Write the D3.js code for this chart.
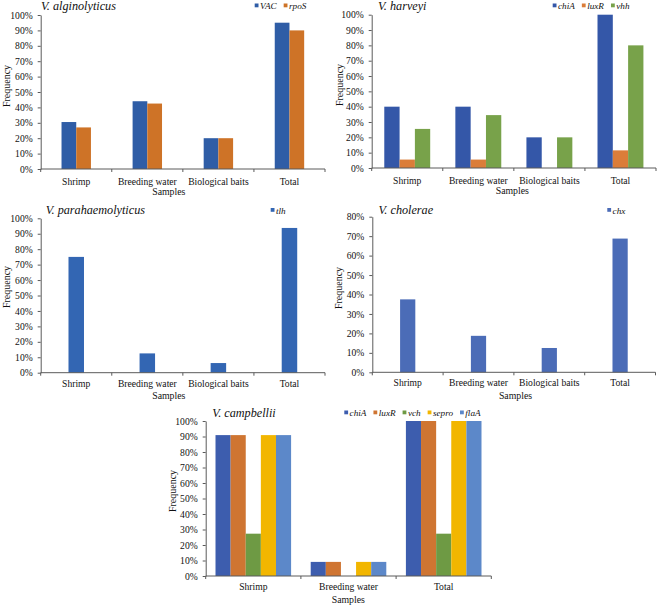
<!DOCTYPE html>
<html><head><meta charset="utf-8">
<script src="https://cdn.jsdelivr.net/npm/d3@7"></script>
<style>
body{margin:0;background:#fff}
svg{display:block}
svg text{font-family:"Liberation Serif","Times New Roman",Times,"DejaVu Serif",serif;fill:#111}
</style>
</head><body>
<svg id="c" width="659" height="606"></svg>
<script>
// ---- data ----
const categories4 = ["Shrimp", "Breeding water", "Biological baits", "Total"];
const categories3 = ["Shrimp", "Breeding water", "Total"];

const alginoVAC  = [0.305, 0.44, 0.20, 0.95];
const alginoRpoS = [0.27, 0.425, 0.20, 0.90];

const harveyiChiA = [0.40, 0.40, 0.20, 1.00];
const harveyiLuxR = [0.055, 0.055, 0.0, 0.115];
const harveyiVhh  = [0.255, 0.345, 0.20, 0.80];

const paraTlh = [0.75, 0.125, 0.0625, 0.9375];

const choleraeChx = [0.375, 0.1875, 0.125, 0.6875];

const campChiA  = [0.909, 0.091, 1.00];
const campLuxR  = [0.909, 0.091, 1.00];
const campVch   = [0.273, 0.0, 0.273];
const campSepro = [0.909, 0.091, 1.00];
const campFlaA  = [0.909, 0.091, 1.00];

const yTicks100 = [0,0.1,0.2,0.3,0.4,0.5,0.6,0.7,0.8,0.9,1.0];
const yTicks80  = [0,0.1,0.2,0.3,0.4,0.5,0.6,0.7,0.8];

// ---- layout / style ----
const panels = [
  { title:"V. alginolyticus", cats:categories4, yTicks:yTicks100, yMax:1,
    series:[{name:"VAC", values:alginoVAC, color:"#2F5DA6"},{name:"rpoS", values:alginoRpoS, color:"#CE7327"}],
    x0:40.7, x1:325, yTop:15, y0:169, frac:0.414, titleX:41, titleY:9.5, legX:254.7, legY:9,
    catY:184.5, samplesX:168.8, samplesY:195, freqX:10, freqY:86 },
  { title:"V. harveyi", cats:categories4, yTicks:yTicks100, yMax:1,
    series:[{name:"chiA", values:harveyiChiA, color:"#3457A8"},{name:"luxR", values:harveyiLuxR, color:"#DB7D39"},{name:"vhh", values:harveyiVhh, color:"#78A24A"}],
    x0:371.7, x1:656, yTop:14.7, y0:168, frac:0.646, titleX:378, titleY:9.5, legX:552.7, legY:9,
    catY:183.5, samplesX:512.3, samplesY:194, freqX:343, freqY:85 },
  { title:"V. parahaemolyticus", cats:categories4, yTicks:yTicks100, yMax:1,
    series:[{name:"tlh", values:paraTlh, color:"#3366B3"}],
    x0:40.7, x1:325, yTop:218.3, y0:372.7, frac:0.218, titleX:45.7, titleY:214, legX:270.7, legY:213.5,
    catY:387, samplesX:168.8, samplesY:399, freqX:10, freqY:287 },
  { title:"V. cholerae", cats:categories4, yTicks:yTicks80, yMax:0.8,
    series:[{name:"chx", values:choleraeChx, color:"#4B6CB7"}],
    x0:372.3, x1:655.5, yTop:216.7, y0:372.3, frac:0.215, titleX:378.5, titleY:214, legX:607.3, legY:213.5,
    catY:386.5, samplesX:515.5, samplesY:398.5, freqX:342, freqY:288 },
  { title:"V. campbellii", cats:categories3, yTicks:yTicks100, yMax:1,
    series:[{name:"chiA", values:campChiA, color:"#3D5DAE"},{name:"luxR", values:campLuxR, color:"#CF7532"},
            {name:"vch", values:campVch, color:"#6E9A44"},{name:"sepro", values:campSepro, color:"#F2B600"},
            {name:"flaA", values:campFlaA, color:"#5C88C9"}],
    x0:205.7, x1:491.3, yTop:421, y0:576, frac:0.794, titleX:212.3, titleY:416.5, legX:344.3, legY:416,
    catY:590, samplesX:348.3, samplesY:603, freqX:175.5, freqY:491 }
];

const svg = d3.select("#c");
const AXIS = "#5a5a5a";

panels.forEach(p => {
  const g = svg.append("g");
  const x = d3.scaleBand().domain(p.cats).range([p.x0, p.x1]).paddingInner(0).paddingOuter(0);
  const y = d3.scaleLinear().domain([0, p.yMax]).range([p.y0, p.yTop]);
  const names = p.series.map(s => s.name);
  const inner = d3.scaleBand().domain(names)
      .range([x.bandwidth()*(1-p.frac)/2, x.bandwidth()*(1-(1-p.frac)/2)]).padding(0);

  p.series.forEach(s => {
    g.append("g").selectAll("rect").data(p.cats.map((c,i)=>({c, v:s.values[i]})))
      .join("rect")
      .attr("x", d => x(d.c) + inner(s.name))
      .attr("width", inner.bandwidth())
      .attr("y", d => y(d.v))
      .attr("height", d => p.y0 - y(d.v))
      .attr("fill", s.color);
  });

  const ya = g.append("g").attr("transform", `translate(${p.x0},0)`)
    .call(d3.axisLeft(y).tickValues(p.yTicks).tickFormat(d3.format(".0%")).tickSizeInner(3).tickSizeOuter(0).tickPadding(5));
  ya.attr("font-family", null);
  ya.select(".domain").attr("stroke", AXIS);
  ya.selectAll(".tick line").attr("stroke", AXIS);
  ya.selectAll("text").attr("font-size", 9.6).attr("fill", "#111");

  const xa = g.append("g").attr("transform", `translate(0,${p.y0})`)
    .call(d3.axisBottom(x).tickSize(0).tickPadding(0));
  xa.attr("font-family", null);
  xa.select(".domain").remove();
  xa.selectAll("text").attr("dy", null).attr("y", p.catY - p.y0)
    .attr("font-size", 9.6).attr("fill", "#111");
  g.append("line").attr("x1", p.x0).attr("x2", p.x1).attr("y1", p.y0).attr("y2", p.y0)
    .attr("stroke", AXIS).attr("stroke-width", 1);
  const bounds = p.cats.map(c => x(c) + x.bandwidth()).concat([x(p.cats[0])]);
  g.append("g").selectAll("line").data(bounds).join("line")
    .attr("x1", d => d).attr("x2", d => d).attr("y1", p.y0).attr("y2", p.y0 + 3)
    .attr("stroke", AXIS);

  g.append("text").attr("x", p.samplesX).attr("y", p.samplesY).attr("text-anchor", "middle")
    .attr("font-size", 9.8).text("Samples");
  g.append("text").attr("transform", `translate(${p.freqX},${p.freqY}) rotate(-90)`)
    .attr("text-anchor", "middle").attr("font-size", 10).text("Frequency");

  g.append("text").attr("x", p.titleX).attr("y", p.titleY)
    .attr("font-style", "italic").attr("font-size", 12.2).text(p.title);

  let lx = p.legX;
  p.series.forEach(s => {
    g.append("rect").attr("x", lx).attr("y", p.legY - 5.5).attr("width", 3.8).attr("height", 3.8).attr("fill", s.color);
    const t = g.append("text").attr("x", lx + 5.3).attr("y", p.legY)
      .attr("font-style", "italic").attr("font-size", 9.2).text(s.name);
    lx += 5.3 + t.node().getComputedTextLength() + 7;
  });
});
</script>
</body></html>
